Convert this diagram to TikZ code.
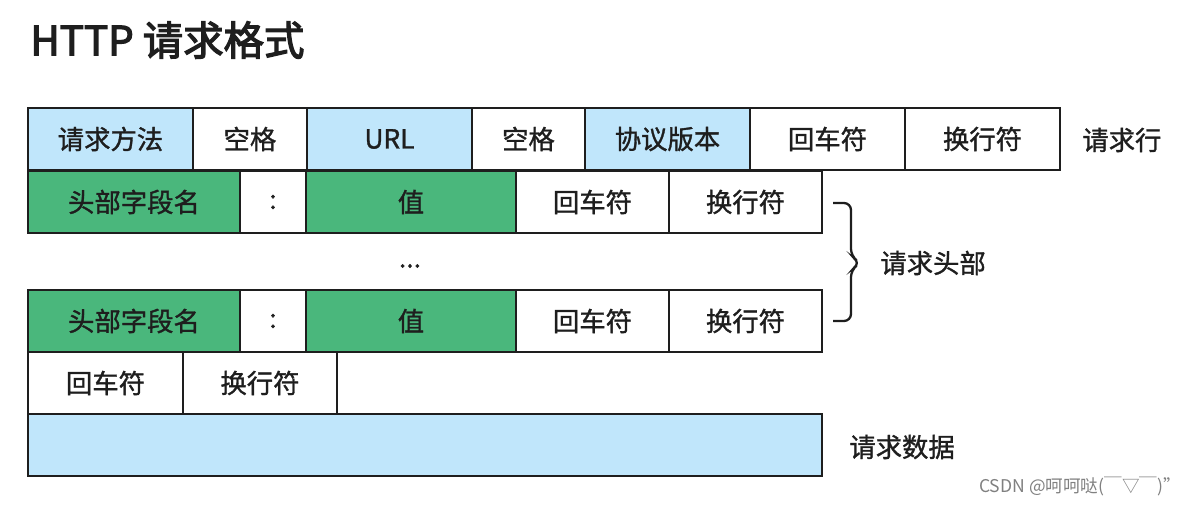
\documentclass[tikz,border=0pt]{standalone}
\usepackage{fontspec}
\setmainfont{Noto Sans CJK SC}
\newfontfamily\cellfont[FakeBold=1.2]{Noto Sans CJK SC}
\newfontfamily\titlefont[FakeBold=3]{Noto Sans CJK SC}
\definecolor{reqblue}{RGB}{192,230,251}
\definecolor{hdrgreen}{RGB}{74,183,124}
\definecolor{ink}{RGB}{30,30,30}
\tikzset{
  cell/.style={draw=ink,line width=1.6pt,anchor=north west,inner sep=0pt,outer sep=0pt,
    minimum height=62*0.02cm,text=ink,font=\cellfont\fontsize{15}{18}\selectfont},
  wd/.style={minimum width=#1*0.02cm},
  lbl/.style={anchor=west,inner sep=0pt,text=ink,font=\cellfont\fontsize{15}{18}\selectfont},
}
\begin{document}
\begin{tikzpicture}[x=0.02cm,y=-0.02cm]
\useasboundingbox (0,0) rectangle (1193,506);
\node[anchor=west,inner sep=0pt,text=ink,font=\titlefont\fontsize{23}{28}\selectfont] (title) at (30,40) {HTTP 请求格式};
% request line
\node[cell,wd=165,fill=reqblue] (method) at (28,108) {请求方法};
\node[cell,wd=114] (sp1) at (method.north east) {空格};
\node[cell,wd=165,fill=reqblue] (url) at (sp1.north east) {URL};
\node[cell,wd=113] (sp2) at (url.north east) {空格};
\node[cell,wd=165,fill=reqblue] (ver) at (sp2.north east) {协议版本};
\node[cell,wd=155] (cr1) at (ver.north east) {回车符};
\node[cell,wd=155] (lf1) at (cr1.north east) {换行符};
\node[lbl] (rline) at (1082,140) {请求行};
% header lines
\node[cell,wd=212,fill=hdrgreen] (key1) at (28,171) {头部字段名};
\node[cell,wd=66] (col1) at (key1.north east) {:};
\node[cell,wd=210,fill=hdrgreen] (val1) at (col1.north east) {值};
\node[cell,wd=153] (cr2) at (val1.north east) {回车符};
\node[cell,wd=153] (lf2) at (cr2.north east) {换行符};
\node[text=ink,font=\cellfont\fontsize{15}{18}\selectfont] (dots) at (410,266) {...};
\node[cell,wd=212,fill=hdrgreen] (key2) at (28,290) {头部字段名};
\node[cell,wd=66] (col2) at (key2.north east) {:};
\node[cell,wd=210,fill=hdrgreen] (val2) at (col2.north east) {值};
\node[cell,wd=153] (cr3) at (val2.north east) {回车符};
\node[cell,wd=153] (lf3) at (cr3.north east) {换行符};
\coordinate (btop) at (833,203);
\coordinate (btip) at (860,263);
\coordinate (bbot) at (833,321);
\draw[ink,line width=1.3pt,rounded corners=4pt] (btop) -- (851,203) -- (851,256) -- (btip) -- (851,270) -- (851,321) -- (bbot);
\node[lbl] (rhead) at (880,263) {请求头部};
% empty line and body
\node[cell,wd=155] (cr4) at (28,352) {回车符};
\node[cell,wd=154] (lf4) at (cr4.north east) {换行符};
\node[cell,wd=794,fill=reqblue] (body) at (28,414) {};
\node[lbl] (rdata) at (849,447) {请求数据};
\node[anchor=east,inner sep=0pt,text=black!50,font=\fontsize{10}{12}\selectfont] (mark) at (1181,486) {CSDN @呵呵哒(￣▽￣)"};
\end{tikzpicture}
\end{document}
